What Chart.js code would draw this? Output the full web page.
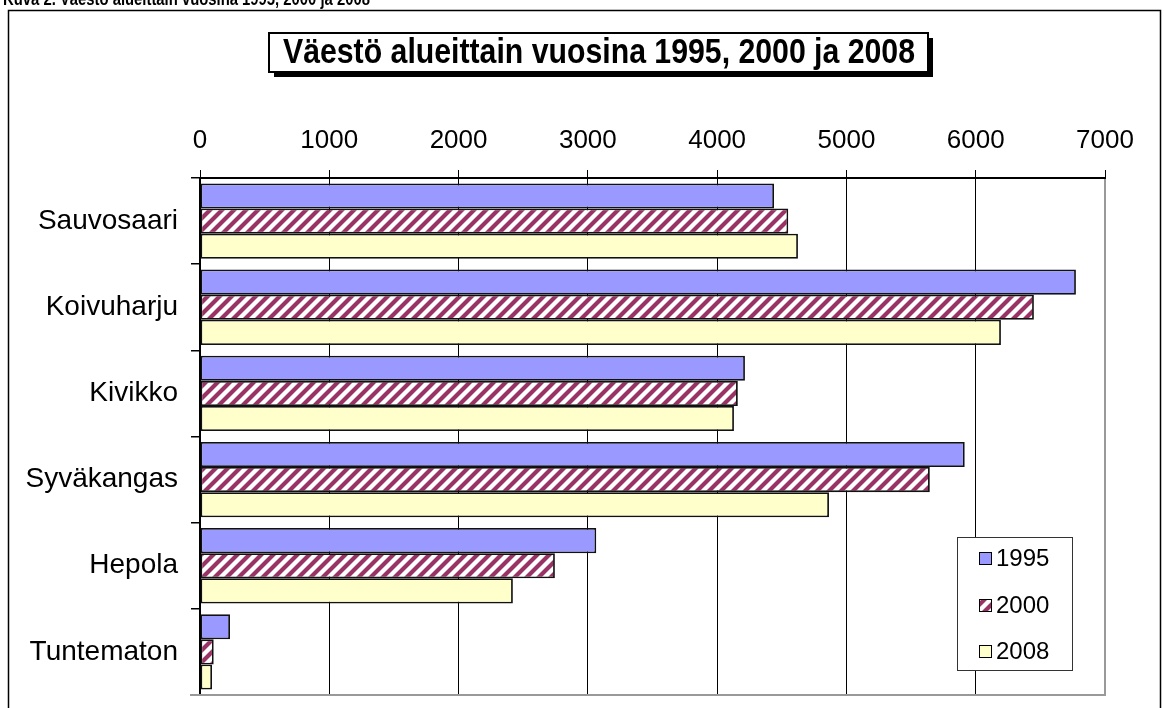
<!DOCTYPE html>
<html><head><meta charset="utf-8">
<script src="https://cdn.jsdelivr.net/npm/chart.js@4"></script>
<style>html,body{margin:0;padding:0;background:#fff}#wrap{width:1164px;height:708px;position:relative;overflow:hidden}</style>
</head><body><div id="wrap"><canvas id="c" width="1164" height="708"></canvas></div>
<script>
const categories = ['Sauvosaari','Koivuharju','Kivikko','Syväkangas','Hepola','Tuntematon'];
const seriesNames = ['1995','2000','2008'];
const values1995 = [4440, 6775, 4215, 5915, 3065, 232];
const values2000 = [4550, 6450, 4160, 5645, 2745, 106];
const values2008 = [4625, 6195, 4130, 4865, 2420, 93];
const xTicks = [0, 1000, 2000, 3000, 4000, 5000, 6000, 7000];
const chartTitle = 'Väestö alueittain vuosina 1995, 2000 ja 2008';
const figureCaption = 'Kuva 2. Väestö alueittain vuosina 1995, 2000 ja 2008';

const FONT = "'Liberation Sans', Arial, Helvetica, sans-serif";
const canvas = document.getElementById('c');
const mainCtx = canvas.getContext('2d');

function makeHatch() {
  const t = document.createElement('canvas');
  t.width = 12; t.height = 12;
  const g = t.getContext('2d');
  g.fillStyle = '#ffffff'; g.fillRect(0, 0, 12, 12);
  g.strokeStyle = '#993366'; g.lineWidth = 4.2;
  g.beginPath();
  g.moveTo(-6, 6); g.lineTo(6, -6);
  g.moveTo(0, 12); g.lineTo(12, 0);
  g.moveTo(6, 18); g.lineTo(18, 6);
  g.stroke();
  return mainCtx.createPattern(t, 'repeat');
}
const hatch = makeHatch();
const fills = ['#9999ff', hatch, '#ffffcc'];

const decor = {
  id: 'decor',
  beforeDraw(chart) {
    const c = chart.ctx;
    c.save();
    c.fillStyle = '#fff'; c.fillRect(0, 0, chart.width, chart.height);
    // caption (cut off at top of the picture)
    c.fillStyle = '#000';
    c.font = 'bold 18px ' + FONT;
    c.textBaseline = 'alphabetic'; c.textAlign = 'left';
    const w = c.measureText(figureCaption).width;
    c.save();
    c.translate(3, 5);
    c.scale(367 / w, 1);
    c.fillText(figureCaption, 0, 0);
    c.restore();
    // outer frame
    c.strokeStyle = '#000'; c.lineWidth = 1.5;
    c.strokeRect(8.5, 10.5, 1152, 720);
    c.restore();
  },
  afterDraw(chart) {
    const c = chart.ctx;
    const a = chart.chartArea;
    c.save();
    // gray plot-area right & bottom border
    c.strokeStyle = '#999'; c.lineWidth = 2;
    c.beginPath();
    c.moveTo(a.right, a.top + 1); c.lineTo(a.right, a.bottom);
    c.lineTo(a.left - 10, a.bottom);
    c.stroke();
    // title box with shadow
    const bx = 269, by = 33, bw = 659, bh = 39;
    c.fillStyle = '#000';
    c.fillRect(bx + 5, by + 5, bw, bh);
    c.fillStyle = '#fff';
    c.fillRect(bx, by, bw, bh);
    c.strokeStyle = '#000'; c.lineWidth = 2;
    c.strokeRect(bx, by, bw, bh);
    c.fillStyle = '#000';
    c.font = "bold 35px 'Liberation Sans Narrow', 'Arial Narrow', " + FONT;
    c.textBaseline = 'middle'; c.textAlign = 'left';
    const tw = c.measureText(chartTitle).width;
    c.save();
    c.translate(283, by + bh / 2 + 1);
    c.scale(632 / tw, 1);
    c.fillText(chartTitle, 0, 0);
    c.restore();
    // legend inside plot area
    const lx = 957.5, ly = 537.5, lw = 115, lh = 133;
    c.fillStyle = '#fff'; c.fillRect(lx, ly, lw, lh);
    c.strokeStyle = '#333'; c.lineWidth = 1;
    c.strokeRect(lx, ly, lw, lh);
    const rows = [558, 605, 651];
    c.font = '24px ' + FONT;
    c.textBaseline = 'middle'; c.textAlign = 'left';
    chart.data.datasets.forEach((ds, i) => {
      const y = rows[i];
      c.fillStyle = ds.backgroundColor;
      c.fillRect(979, y - 6, 12, 12);
      c.strokeStyle = '#000'; c.lineWidth = 1;
      c.strokeRect(979.5, y - 5.5, 12, 12);
      c.fillStyle = '#000';
      c.fillText(ds.label, 996, y + 1);
    });
    c.restore();
  }
};

new Chart(canvas, {
  type: 'bar',
  data: {
    labels: categories,
    datasets: [
      { label: seriesNames[0], data: values1995, backgroundColor: fills[0] },
      { label: seriesNames[1], data: values2000, backgroundColor: fills[1] },
      { label: seriesNames[2], data: values2008, backgroundColor: fills[2] }
    ].map(d => Object.assign(d, { borderColor: '#111', borderWidth: 1.8, borderSkipped: false, categoryPercentage: 0.875, barPercentage: 1 }))
  },
  plugins: [decor],
  options: {
    indexAxis: 'y',
    responsive: false,
    devicePixelRatio: 1,
    animation: false,
    layout: { padding: { left: 0, top: 0, right: 59, bottom: 13 } },
    plugins: { legend: { display: false }, title: { display: false }, tooltip: { enabled: false } },
    scales: {
      x: {
        position: 'top', min: 0, max: 7000,
        afterBuildTicks: s => { s.ticks = xTicks.map(v => ({ value: v })); },
        afterFit: s => { s.height = 178; },
        grid: { color: '#000', lineWidth: 1, tickLength: 8, drawTicks: true },
        border: { color: '#000', width: 2 },
        ticks: { color: '#000', font: { size: 26, family: FONT }, padding: 14, maxRotation: 0, callback: v => String(v) }
      },
      y: {
        afterFit: s => { s.width = 200; s.paddingTop = 0; s.paddingBottom = 0; },
        grid: { color: '#000', offset: true, drawOnChartArea: false, tickLength: 9, lineWidth: 1.5 },
        border: { color: '#000', width: 2 },
        ticks: { color: '#000', font: { size: 28, family: FONT }, padding: 13 }
      }
    }
  }
});
</script>
</body></html>
